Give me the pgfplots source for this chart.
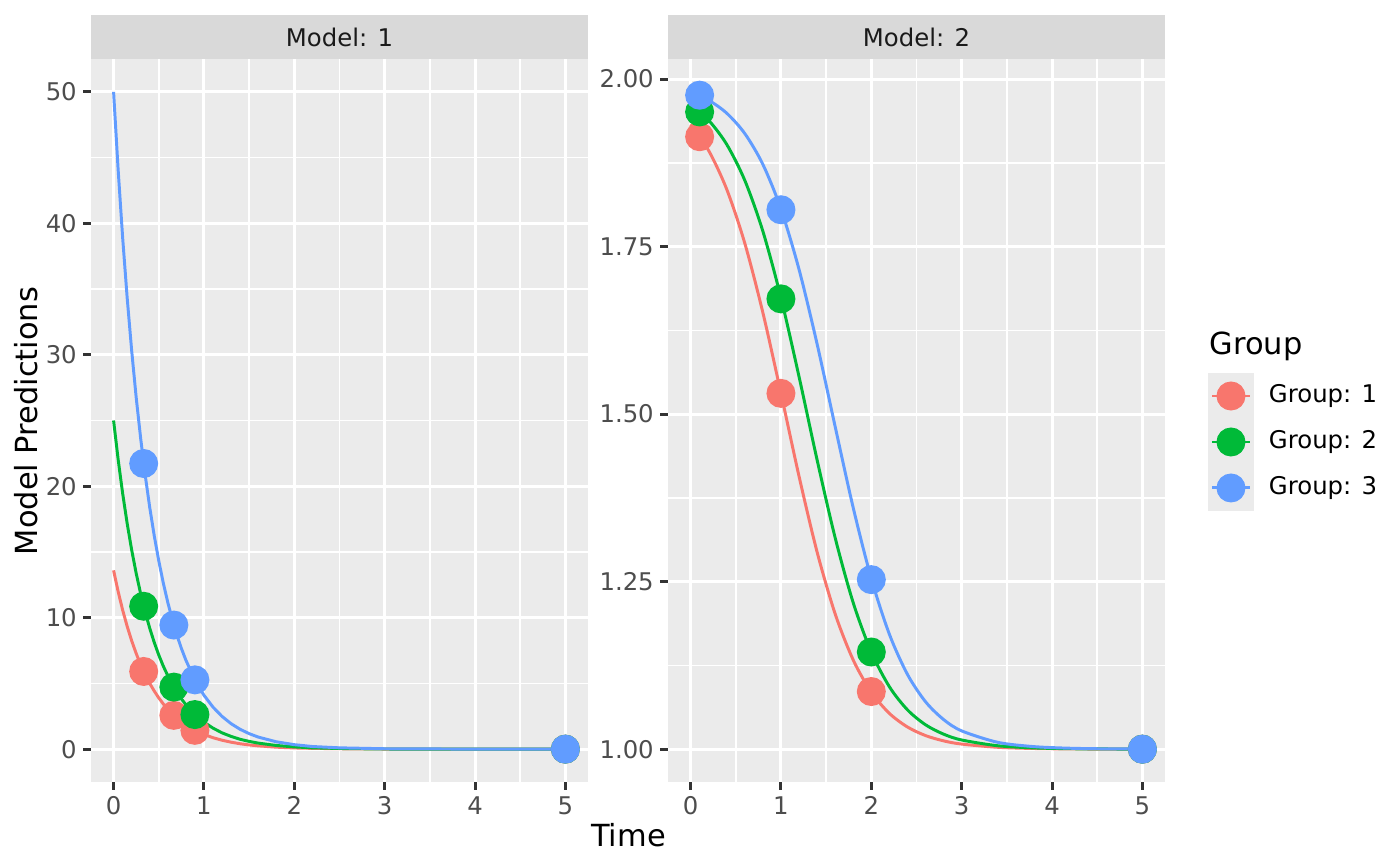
\documentclass[border=0pt]{standalone}
\usepackage{fontspec}
\setmainfont{DejaVu Sans}
\usepackage{pgfplots}
\usepackage{pgfplotstable}
\pgfplotsset{compat=1.18}
\definecolor{panel}{HTML}{EBEBEB}
\definecolor{stripc}{HTML}{D9D9D9}
\definecolor{gthirty}{HTML}{4D4D4D}
\definecolor{gtwenty}{HTML}{333333}
\definecolor{gten}{HTML}{1A1A1A}
\definecolor{cr}{HTML}{F8766D}
\definecolor{cg}{HTML}{00BA38}
\definecolor{cb}{HTML}{619CFF}

\pgfplotstableread{
t r g b
0 13.6 25 50
0.05 12.00 22.06 44.12
0.1 10.59 19.47 38.94
0.15 9.35 17.18 34.36
0.2 8.25 15.16 30.33
0.25 7.28 13.38 26.76
0.3 6.42 11.81 23.62
0.35 5.67 10.42 20.84
0.4 5.00 9.20 18.39
0.45 4.42 8.12 16.23
0.5 3.90 7.16 14.33
0.55 3.44 6.32 12.64
0.6 3.03 5.58 11.16
0.65 2.68 4.92 9.85
0.7 2.36 4.34 8.69
0.75 2.09 3.83 7.67
0.8 1.84 3.38 6.77
0.9 1.43 2.63 5.27
1.0 1.12 2.05 4.10
1.1 0.87 1.60 3.20
1.2 0.68 1.24 2.49
1.3 0.53 0.97 1.94
1.4 0.41 0.75 1.51
1.5 0.32 0.59 1.18
1.6 0.25 0.46 0.92
1.8 0.15 0.28 0.56
2.0 0.09 0.17 0.34
2.2 0.06 0.10 0.20
2.5 0.03 0.05 0.10
3.0 0.008 0.01 0.03
4.0 0.0006 0.001 0.002
5.0 0 0 0
}\curveA

\pgfplotstableread{
t r g b
0.333 5.91 10.87 21.73
0.667 2.57 4.72 9.44
0.9 1.43 2.63 5.27
5 0 0 0
}\pointsA

\pgfplotstableread{
t r g b
0 1.9325 1.9618 1.9807
0.2 1.8933 1.9385 1.9685
0.4 1.8355 1.9025 1.9491
0.6 1.7549 1.8488 1.9187
0.8 1.6514 1.7729 1.8727
1.0 1.5312 1.6737 1.8061
1.2 1.4073 1.5560 1.7160
1.4 1.2942 1.4317 1.6047
1.6 1.2018 1.3154 1.4813
1.8 1.1330 1.2184 1.3601
2.0 1.0851 1.1449 1.2545
2.2 1.0534 1.0932 1.1715
2.4 1.0331 1.0587 1.1116
2.6 1.0203 1.0364 1.0708
2.8 1.0124 1.0224 1.0442
3.0 1.0076 1.0137 1.0273
3.4 1.0028 1.0051 1.0102
3.8 1.0010 1.0019 1.0038
4.2 1.0004 1.0007 1.0014
4.6 1.0001 1.0003 1.0005
5.0 1.0000 1.0001 1.0002
}\curveB

\pgfplotstableread{
t r g b
0.1 1.914 1.951 1.976
1 1.531 1.672 1.805
2 1.086 1.145 1.253
5 1 1 1
}\pointsB

\pgfplotsset{gg/.style={
  scale only axis, width=179.59pt, height=261.26pt,
  xmin=-0.25, xmax=5.25,
  axis background/.style={fill=panel},
  axis line style={draw=none},
  grid=both,
  major grid style={white, line width=1.07pt},
  minor grid style={white, line width=0.53pt},
  xtick={0,1,2,3,4,5},
  minor xtick={0.5,1.5,2.5,3.5,4.5},
  xtick pos=bottom, ytick pos=left,
  tick align=outside,
  major tick length=2.75pt, minor tick length=0pt,
  major tick style={gtwenty, line width=1.07pt},
  tick label style={font=\fontsize{8.8}{10}\selectfont, text=gthirty},
  xticklabel style={inner sep=0pt, yshift=-2.2pt},
  yticklabel style={inner sep=0pt, xshift=-2.2pt},
  /pgf/number format/assume math mode=true,
  clip=false,
  every axis plot/.append style={line width=1.07pt},
}}
\pgfplotsset{pts/.style={only marks, mark=*, mark size=4.7pt, color=#1, mark options={draw=none, fill=#1}}}

\begin{document}
\begin{tikzpicture}
\path[use as bounding box] (0,0) rectangle (505.89pt,312.93pt);

\begin{axis}[gg, name=m1, at={(32.88pt,30.35pt)}, anchor=south west,
  ymin=-2.5, ymax=52.5,
  ytick={0,10,20,30,40,50},
  minor ytick={5,15,25,35,45}]
\addplot[cr, no marks] table[x=t, y=r] {\curveA};
\addplot[cg, no marks] table[x=t, y=g] {\curveA};
\addplot[cb, no marks] table[x=t, y=b] {\curveA};
\addplot[pts=cr] table[x=t, y=r] {\pointsA};
\addplot[pts=cg] table[x=t, y=g] {\pointsA};
\addplot[pts=cb] table[x=t, y=b] {\pointsA};
\end{axis}
\fill[stripc] (m1.north west) rectangle ([yshift=15.9pt]m1.north east);
\node[font=\fontsize{8.8}{10}\selectfont, text=gten] at ([yshift=7.95pt]m1.north) {Model: 1};

\begin{axis}[gg, name=m2, at={(241.38pt,30.35pt)}, anchor=south west,
  ymin=0.951, ymax=2.030,
  ytick={1,1.25,1.5,1.75,2},
  yticklabels={1.00,1.25,1.50,1.75,2.00},
  minor ytick={1.125,1.375,1.625,1.875},
  legend style={at={(axis description cs:1.0865,0.5657)}, anchor=north west,
    draw=none, fill=none, inner sep=0pt, outer sep=0pt,
    row sep=0pt, column sep=5.42pt,
    font=\fontsize{8.8}{10}\selectfont,
    nodes={inner sep=0pt}},
  legend cell align=left,
  legend image code/.code={
    \fill[panel, draw=none] (0pt,-8.31pt) rectangle (16.62pt,8.31pt);
    \draw[mark repeat=2, mark phase=2, #1] plot coordinates {(1.6pt,0pt) (8.31pt,0pt) (15.0pt,0pt)};
  }]
\addplot[cr, smooth, no marks, forget plot] table[x=t, y=r] {\curveB};
\addplot[cg, smooth, no marks, forget plot] table[x=t, y=g] {\curveB};
\addplot[cb, smooth, no marks, forget plot] table[x=t, y=b] {\curveB};
\addplot[pts=cr, forget plot] table[x=t, y=r] {\pointsB};
\addplot[pts=cg, forget plot] table[x=t, y=g] {\pointsB};
\addplot[pts=cb, forget plot] table[x=t, y=b] {\pointsB};
\addlegendimage{cr, line width=1.07pt, mark=*, mark size=4.7pt, mark options={draw=none, fill=cr}}
\addlegendentry{Group: 1}
\addlegendimage{cg, line width=1.07pt, mark=*, mark size=4.7pt, mark options={draw=none, fill=cg}}
\addlegendentry{Group: 2}
\addlegendimage{cb, line width=1.07pt, mark=*, mark size=4.7pt, mark options={draw=none, fill=cb}}
\addlegendentry{Group: 3}
\end{axis}
\fill[stripc] (m2.north west) rectangle ([yshift=15.9pt]m2.north east);
\node[font=\fontsize{8.8}{10}\selectfont, text=gten] at ([yshift=7.95pt]m2.north) {Model: 2};

\node[font=\fontsize{11}{13}\selectfont, anchor=base west, inner sep=0pt] at (436.9pt,184.65pt) {Group};
\node[font=\fontsize{11}{13}\selectfont, anchor=base] at (227.1pt,7.2pt) {Time};
\node[font=\fontsize{11}{13}\selectfont, anchor=base, rotate=90] at (13.4pt,160.8pt) {Model Predictions};
\end{tikzpicture}
\end{document}
